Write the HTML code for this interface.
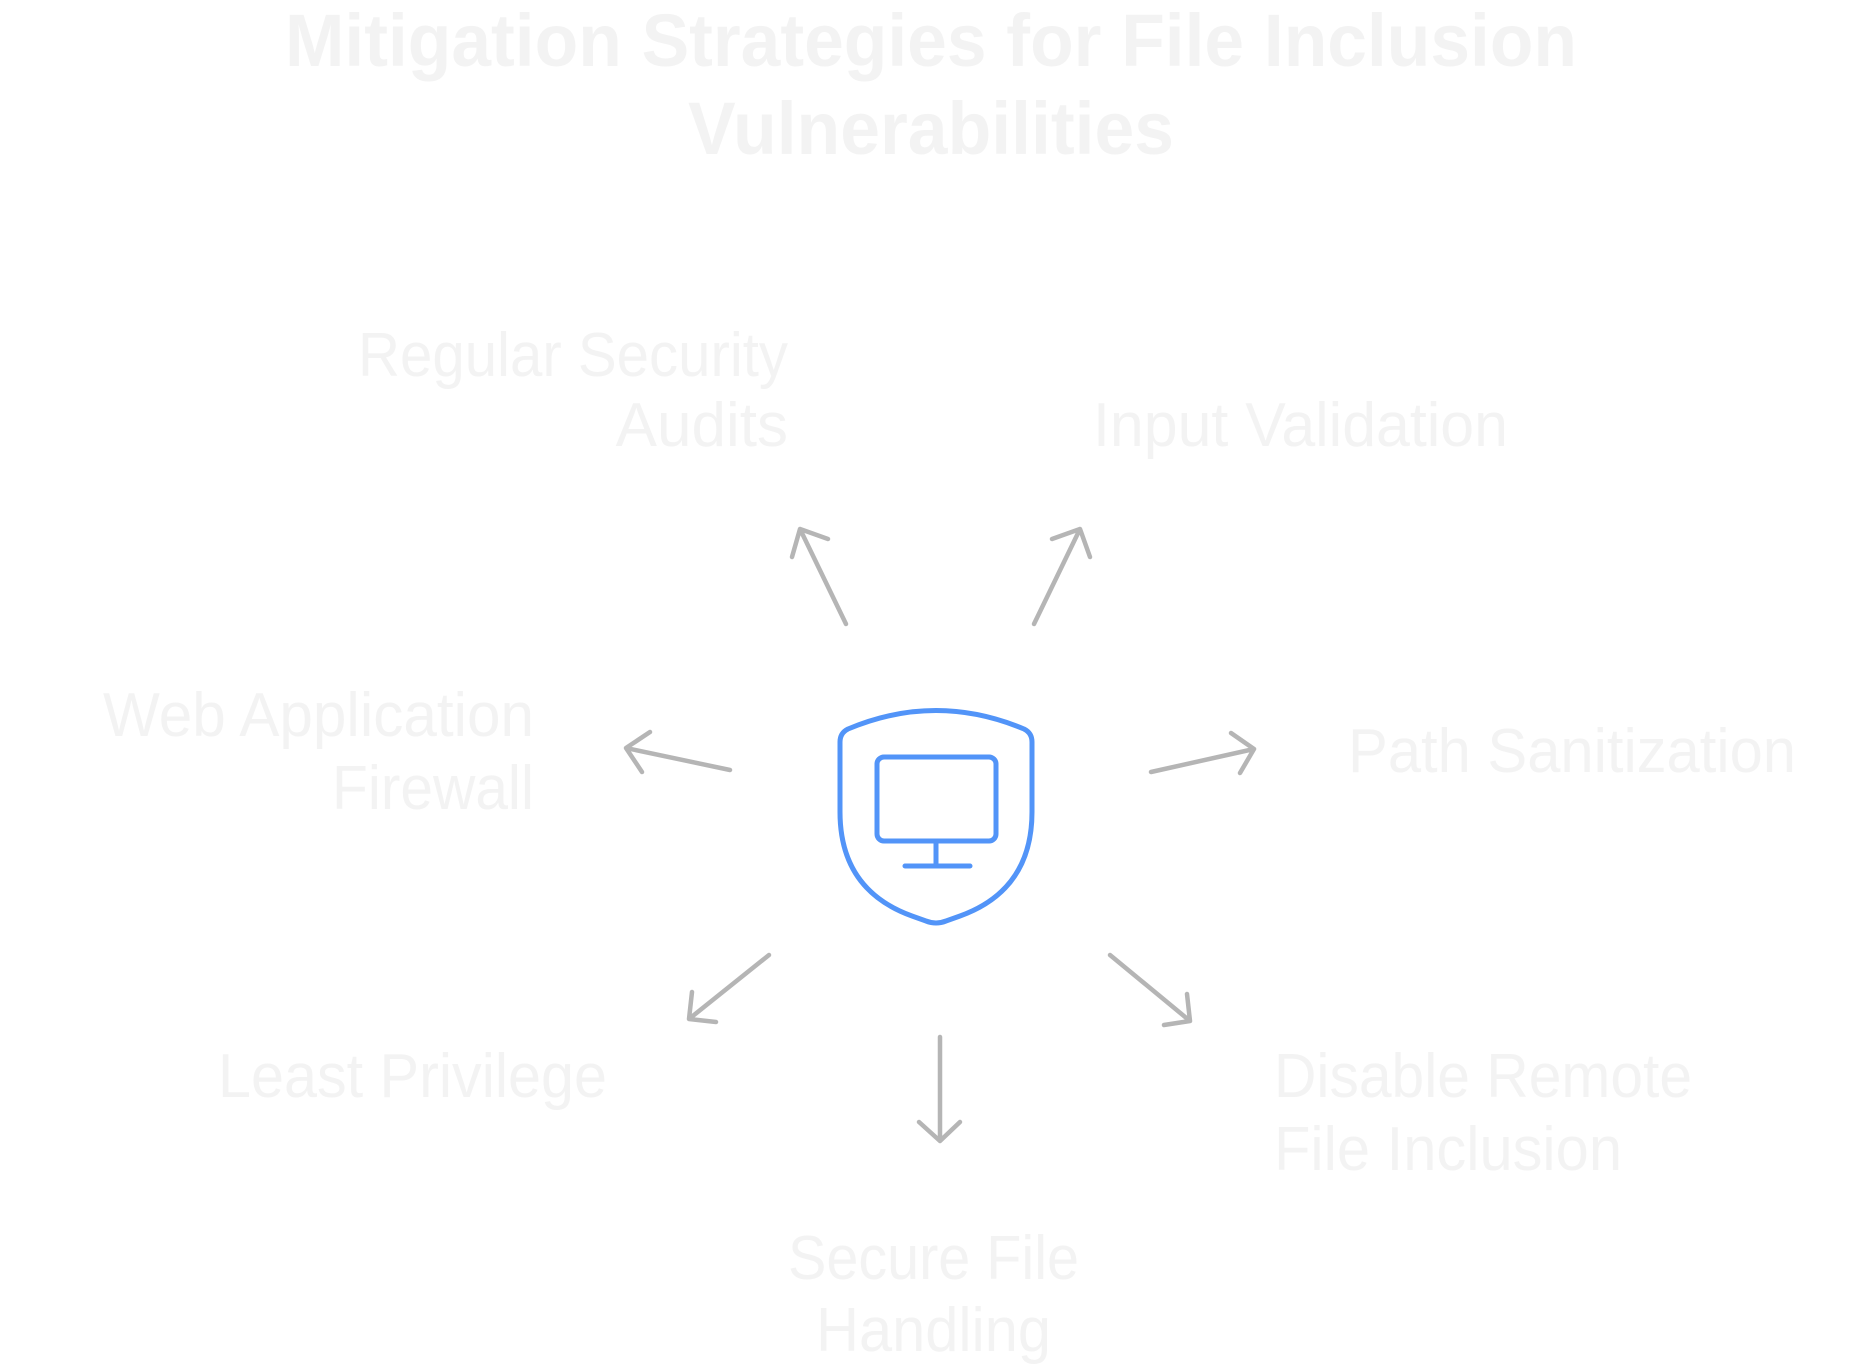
<!DOCTYPE html>
<html><head><meta charset="utf-8"><style>
html,body{margin:0;padding:0;background:#fff;}
svg{display:block;}
</style></head><body>
<svg width="1872" height="1366" viewBox="0 0 1872 1366" xmlns="http://www.w3.org/2000/svg">
<g font-family="Liberation Sans, sans-serif" fill="#f3f3f3">
<text x="931" y="66" font-size="74" font-weight="bold" text-anchor="middle" textLength="1292" lengthAdjust="spacingAndGlyphs">Mitigation Strategies for File Inclusion</text>
<text x="931" y="154" font-size="74" font-weight="bold" text-anchor="middle" textLength="486" lengthAdjust="spacingAndGlyphs">Vulnerabilities</text>
<g font-size="62">
<text x="358" y="376" textLength="430" lengthAdjust="spacingAndGlyphs">Regular Security</text>
<text x="788" y="446" text-anchor="end">Audits</text>
<text x="1093" y="446" textLength="415" lengthAdjust="spacingAndGlyphs">Input Validation</text>
<text x="103" y="736" textLength="431" lengthAdjust="spacingAndGlyphs">Web Application</text>
<text x="332" y="809" textLength="202" lengthAdjust="spacingAndGlyphs">Firewall</text>
<text x="1348" y="772" textLength="448" lengthAdjust="spacingAndGlyphs">Path Sanitization</text>
<text x="218" y="1097" textLength="389" lengthAdjust="spacingAndGlyphs">Least Privilege</text>
<text x="1274" y="1097" textLength="418" lengthAdjust="spacingAndGlyphs">Disable Remote</text>
<text x="1274" y="1170" textLength="348" lengthAdjust="spacingAndGlyphs">File Inclusion</text>
<text x="788" y="1279" textLength="291" lengthAdjust="spacingAndGlyphs">Secure File</text>
<text x="816" y="1351" textLength="235" lengthAdjust="spacingAndGlyphs">Handling</text>
</g>
</g>
<g stroke="#b5b5b5" stroke-width="4.5" fill="none" stroke-linecap="round" stroke-linejoin="round">
<path d="M846,624 L800,529 M792,557 L800,529 L828,539"/>
<path d="M1034,624 L1080,529 M1052,539 L1080,529 L1090,557"/>
<path d="M730,770 L626,748 M650,732 L626,748 L642,772"/>
<path d="M1151,772 L1254,749 M1231,733 L1254,749 L1240,773"/>
<path d="M769,955 L689,1019 M692,992 L689,1019 L716,1022"/>
<path d="M1110,955 L1190,1021 M1187,994 L1190,1021 L1164,1025"/>
<path d="M940,1037 L940,1141 M919,1122 L940,1141 L960,1122"/>
</g>
<g stroke="#5294f8" stroke-width="5" fill="none" stroke-linecap="round" stroke-linejoin="round">
<path d="M840,742 Q840,733 848,729 Q936,692 1024,729 Q1032,733 1032,742 L1032,812 Q1032,890 960,916 L946,921 Q936,925 926,921 L912,916 Q840,890 840,812 Z"/>
<rect x="877" y="757" width="119" height="84" rx="7"/>
<path d="M936,841 L936,866 M905,866 L970,866"/>
</g>
</svg>
</body></html>
